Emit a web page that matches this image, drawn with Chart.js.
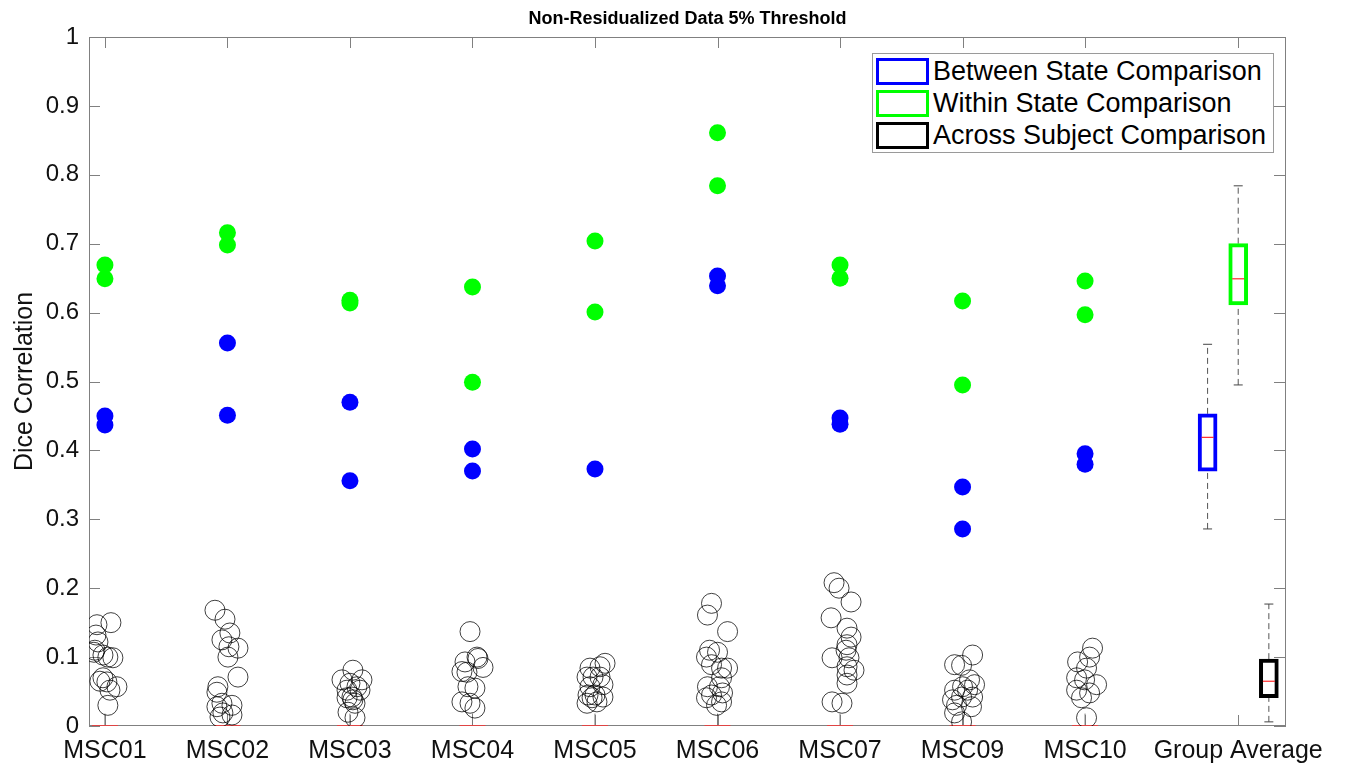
<!DOCTYPE html>
<html>
<head>
<meta charset="utf-8">
<script src="https://cdn.jsdelivr.net/npm/chart.js@4"></script>
<style>
  html, body { margin: 0; padding: 0; background: #fff; }
  #wrap { position: relative; width: 1346px; height: 766px; }
  #legend {
    position: absolute; left: 872px; top: 53px; width: 400px;
    border: 1px solid #9a9a9a; background: #fff; padding: 1px 0 1px 0;
    font-family: "Helvetica Neue", Helvetica, Arial, "Liberation Sans", sans-serif;
    font-size: 27px; color: #000;
  }
  #legend .row { display: flex; align-items: center; height: 32px; }
  #legend .icon { width: 47px; height: 21px; margin: 0 4px 0 3px; border: 3px solid; box-sizing: content-box; }
</style>
</head>
<body>
<div id="wrap">
  <canvas id="c" width="1346" height="766"></canvas>
  <div id="legend"></div>
</div>
<script>
// ── data ──
const subjects      = ['MSC01', 'MSC02', 'MSC03', 'MSC04', 'MSC05', 'MSC06', 'MSC07', 'MSC09', 'MSC10'];
const tickLabels    = [...subjects, 'Group Average'];
const tickPositions = [1, 2, 3, 4, 5, 6, 7, 8, 9, 10.25];

const betweenState = [
  [0.450, 0.437], [0.556, 0.451], [0.470, 0.356], [0.402, 0.370], [0.373],
  [0.653, 0.639], [0.447, 0.438], [0.347, 0.286], [0.395, 0.380],
];
const withinState = [
  [0.669, 0.649], [0.716, 0.698], [0.618, 0.614], [0.637, 0.499], [0.704, 0.601],
  [0.861, 0.784], [0.669, 0.650], [0.617, 0.495], [0.646, 0.597],
];

// across-subject values and their horizontal jitter per subject
const acrossValues = [
  [0.147, 0.150, 0.132, 0.122, 0.110, 0.107, 0.103, 0.100, 0.099, 0.070, 0.064, 0.057, 0.052, 0.030, 0.065],
  [0.168, 0.155, 0.135, 0.125, 0.115, 0.113, 0.100, 0.071, 0.057, 0.049, 0.033, 0.028, 0.030, 0.019, 0.016, 0.013],
  [0.081, 0.067, 0.067, 0.057, 0.052, 0.052, 0.042, 0.041, 0.033, 0.020, 0.012, 0.062, 0.038],
  [0.137, 0.093, 0.098, 0.085, 0.079, 0.078, 0.057, 0.055, 0.035, 0.033, 0.026, 0.100],
  [0.091, 0.086, 0.084, 0.071, 0.071, 0.071, 0.057, 0.060, 0.045, 0.045, 0.042, 0.041, 0.033, 0.035],
  [0.178, 0.161, 0.137, 0.110, 0.107, 0.100, 0.089, 0.084, 0.084, 0.070, 0.057, 0.057, 0.045, 0.048, 0.041, 0.035, 0.030],
  [0.208, 0.200, 0.180, 0.157, 0.142, 0.129, 0.118, 0.110, 0.099, 0.099, 0.086, 0.081, 0.074, 0.062, 0.035, 0.033],
  [0.103, 0.089, 0.088, 0.067, 0.052, 0.052, 0.042, 0.038, 0.042, 0.028, 0.019, 0.006, 0.057, 0.030, 0.060],
  [0.113, 0.100, 0.093, 0.084, 0.070, 0.067, 0.060, 0.052, 0.048, 0.041, 0.012],
];
const acrossJitter = [
  [-0.065, 0.049, -0.073, -0.057, -0.082, -0.090, -0.016, 0.024, 0.065, -0.016, 0.016, 0.098, 0.041, 0.024, -0.041],
  [-0.102, -0.020, 0.020, -0.045, 0.012, 0.086, 0.004, 0.086, -0.078, -0.086, -0.045, -0.086, 0.037, -0.037, 0.037, -0.061],
  [0.024, -0.065, 0.098, 0.057, -0.024, 0.082, 0.016, -0.024, 0.041, -0.016, 0.041, 0.000, 0.024],
  [-0.020, -0.061, 0.045, 0.086, -0.086, -0.045, -0.037, 0.020, -0.086, -0.020, 0.020, 0.037],
  [0.082, 0.041, -0.041, -0.065, -0.016, 0.041, -0.041, 0.065, -0.057, 0.000, 0.065, -0.024, -0.065, 0.016],
  [-0.049, -0.082, 0.082, -0.065, 0.000, -0.090, -0.049, 0.033, 0.082, 0.033, -0.082, 0.016, -0.049, 0.041, -0.090, 0.033, -0.008],
  [-0.049, -0.008, 0.090, -0.073, 0.057, 0.090, 0.057, 0.049, -0.065, 0.073, 0.057, 0.114, 0.057, 0.057, -0.065, 0.016],
  [0.082, -0.065, -0.008, 0.057, -0.065, 0.041, 0.082, -0.082, -0.008, 0.073, -0.065, -0.008, 0.000, -0.049, 0.098],
  [0.061, 0.037, -0.061, 0.012, -0.069, -0.004, 0.094, -0.069, 0.037, -0.029, 0.012],
];

// group average box plots: [min, q1, median, q3, max]
const groupNames  = ['Between State Comparison', 'Within State Comparison', 'Across Subject Comparison'];
const groupColors = ['#0000ff', '#00ff00', '#000000'];
const groupX      = [10, 10.25, 10.5];
const groupStats  = [
  [0.286, 0.370, 0.419, 0.453, 0.554],
  [0.495, 0.611, 0.649, 0.700, 0.784],
  [0.006, 0.041, 0.065, 0.097, 0.177],
];
const subjectStubTop = 0.018;

// ── build datasets ──
const FONT = '"Helvetica Neue", Helvetica, Arial, "Liberation Sans", sans-serif';
const xs = subjects.map((_, i) => i + 1);

const pts = arr => arr.flatMap((vals, i) => vals.map(v => ({ x: xs[i], y: v })));
const acrossPts = acrossValues.flatMap((vals, i) =>
  vals.map((v, j) => ({ x: xs[i] + acrossJitter[i][j], y: v })));

const whiskers = [];
const caps = [];
groupStats.forEach((s, i) => {
  const x = groupX[i];
  whiskers.push({ x, y: s[3] }, { x, y: s[4] }, { x, y: null });
  whiskers.push({ x, y: s[0] }, { x, y: s[1] }, { x, y: null });
  caps.push({ x, y: s[0] }, { x, y: s[4] });
});
const stubs = [];
xs.forEach(x => stubs.push({ x, y: 0 }, { x, y: subjectStubTop }, { x, y: null }));

// MATLAB-like box with inward ticks
const framePlugin = {
  id: 'frame',
  beforeDatasetsDraw(chart) {
    const { ctx, chartArea: a, scales: { x, y } } = chart;
    ctx.save();
    ctx.strokeStyle = '#808080';
    ctx.lineWidth = 1;
    ctx.strokeRect(a.left + 0.5, a.top + 0.5, a.right - a.left - 1, a.bottom - a.top - 1);
    ctx.beginPath();
    y.ticks.forEach(t => {
      const py = Math.round(y.getPixelForValue(t.value)) + 0.5;
      ctx.moveTo(a.left, py);  ctx.lineTo(a.left + 11, py);
      ctx.moveTo(a.right, py); ctx.lineTo(a.right - 12, py);
    });
    x.ticks.forEach(t => {
      const px = Math.round(x.getPixelForValue(t.value)) + 0.5;
      ctx.moveTo(px, a.top);    ctx.lineTo(px, a.top + 11);
      ctx.moveTo(px, a.bottom); ctx.lineTo(px, a.bottom - 11);
    });
    ctx.stroke();
    ctx.restore();
  },
};

new Chart(document.getElementById('c'), {
  type: 'scatter',
  data: {
    datasets: [
      { type: 'scatter', data: pts(withinState), pointRadius: 8.5, pointHoverRadius: 8.5,
        backgroundColor: '#00ff00', borderWidth: 0 },
      { type: 'scatter', data: pts(betweenState), pointRadius: 8.5, pointHoverRadius: 8.5,
        backgroundColor: '#0000ff', borderWidth: 0 },
      { type: 'scatter', data: acrossPts, pointRadius: 10, backgroundColor: 'rgba(0,0,0,0)',
        borderColor: 'rgba(0,0,0,0.75)', borderWidth: 1 },
      { type: 'scatter', data: groupStats.map((s, i) => ({ x: groupX[i], y: s[2] })),
        pointStyle: 'line', pointRadius: 6, borderColor: '#ff0000', borderWidth: 1 },
      { type: 'scatter', data: xs.map(x => ({ x, y: 0 })),
        pointStyle: 'line', pointRadius: 13, borderColor: '#ff3030', borderWidth: 1.5 },
      { type: 'scatter', data: caps, pointStyle: 'line', pointRadius: 4.5,
        borderColor: '#444', borderWidth: 1 },
      { type: 'bar', data: groupStats.map((s, i) => ({ x: groupX[i], y: [s[1], s[3]] })),
        backgroundColor: '#ffffff', borderColor: groupColors, borderWidth: 4,
        borderSkipped: false, barThickness: 19, grouped: false, order: 1 },
      { type: 'line', data: whiskers, borderColor: '#555', borderWidth: 1, borderDash: [6, 4],
        pointRadius: 0, spanGaps: false, order: 2 },
      { type: 'line', data: stubs, borderColor: '#777', borderWidth: 1,
        pointRadius: 0, spanGaps: false, order: 2 },
    ],
  },
  options: {
    responsive: false,
    animation: false,
    layout: { padding: { top: 8, right: 60, left: 0, bottom: 0 } },
    plugins: {
      legend: { display: false },
      tooltip: { enabled: false },
      title: {
        display: true, fullSize: false, text: 'Non-Residualized Data 5% Threshold',
        color: '#000', font: { family: FONT, size: 18, weight: 'bold' },
        padding: { top: 0, bottom: 7.4 },
      },
    },
    scales: {
      x: {
        type: 'linear', min: 0.87, max: 10.64, offset: false,
        afterBuildTicks: s => { s.ticks = tickPositions.map(v => ({ value: v })); },
        afterFit: s => { s.height = 40; },
        grid: { display: false, drawTicks: false, offset: false },
        border: { display: false },
        ticks: {
          autoSkip: false, maxRotation: 0, padding: 10, color: '#111',
          font: { family: FONT, size: 25 },
          callback: (v, i) => tickLabels[i],
        },
      },
      y: {
        min: 0, max: 1,
        afterFit: s => { s.width = 89; },
        grid: { display: false, drawTicks: false },
        border: { display: false },
        ticks: {
          stepSize: 0.1, padding: 10, color: '#111',
          font: { family: FONT, size: 24 },
          callback: v => (v === 0 || v === 1) ? String(v) : v.toFixed(1),
        },
        title: {
          display: true, text: 'Dice Correlation', color: '#111',
          font: { family: FONT, size: 25 }, padding: { top: 10, bottom: 0 },
        },
      },
    },
  },
  plugins: [framePlugin],
});

// legend (outlined boxes like the reference)
const legend = document.getElementById('legend');
groupNames.forEach((name, i) => {
  const row = document.createElement('div');
  row.className = 'row';
  const icon = document.createElement('span');
  icon.className = 'icon';
  icon.style.borderColor = groupColors[i];
  const label = document.createElement('span');
  label.textContent = name;
  row.append(icon, label);
  legend.appendChild(row);
});
</script>
</body>
</html>
